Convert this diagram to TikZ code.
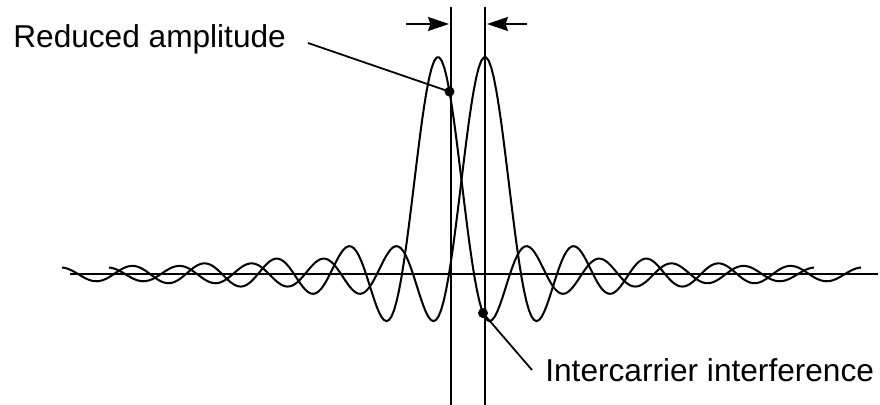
\documentclass[tikz,border=0pt]{standalone}
\usepackage{fontspec}
\setmainfont{Liberation Sans}
\usetikzlibrary{arrows.meta,positioning}

\begin{document}
\begin{tikzpicture}[
    x=0.02cm, y=-0.02cm,
    >={Stealth[length=0.42cm, width=0.28cm, inset=0.05cm]},
    wave/.style={line width=1.15pt, line join=round},
    rule/.style={line width=1.15pt},
    leader/.style={line width=1pt},
    dot/.style={circle, fill=black, inner sep=0pt, minimum size=0.2cm},
    txt/.style={font=\fontsize{18}{21}\selectfont, inner sep=0pt, anchor=base west},
    declare function={carrier(\t)=274-7812*sin(5*\t)/(pi*\t);},
]
\useasboundingbox (0,0) rectangle (880,405);

% Frequency axis
\coordinate (axl) at (70,274);
\coordinate (axr) at (878,274);
\draw[rule] (axl) -- (axr);

% Ideal carrier positions
\coordinate (ltop) at (451,7);
\coordinate (lbot) at (451,405);
\coordinate (rtop) at (485,7);
\coordinate (rbot) at (485,405);
\draw[rule] (ltop) -- (lbot);
\draw[rule] (rtop) -- (rbot);

% Spacing arrows
\coordinate (lstart) at (406,24);
\coordinate (lend) at (449,24);
\coordinate (rstart) at (527,24);
\coordinate (rend) at (487,24);
\draw[->, rule] (lstart) -- (lend);
\draw[->, rule] (rstart) -- (rend);

% Offset carrier and neighbour carrier
\draw[wave] plot[domain=-376:376, samples=300] ({438+\x},{carrier(\x)});
\draw[wave] plot[domain=-376:376, samples=300] ({485+\x},{carrier(\x)});

% Marked points
\node[dot] (redpt) at (449.5,{carrier(11.5)}) {};
\node[dot] (icipt) at (483,{carrier(45)}) {};

% Labels
\node[txt] (redtxt) at (13,48) {Reduced amplitude};
\node[txt] (icitxt) at (545,382) {Intercarrier interference};

\coordinate (redend) at (308,43);
\coordinate (iciend) at (532,370);
\draw[leader] (redend) -- (redpt.center);
\draw[leader] (icipt.center) -- (iciend);

\end{tikzpicture}
\end{document}
